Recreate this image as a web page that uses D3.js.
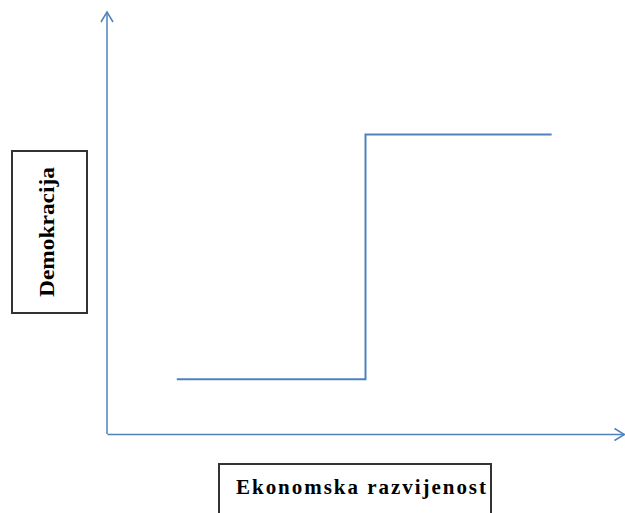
<!DOCTYPE html>
<html>
<head>
<meta charset="utf-8">
<script src="https://cdn.jsdelivr.net/npm/d3@7"></script>
<style>
  body { margin: 0; background: #fff; }
  svg { display: block; }
</style>
</head>
<body>
<svg id="chart"></svg>
<script>
// step relationship: economic development (x) vs democracy (y)
const economy = [13.5, 50, 86];
const democracy = [13, 71, 71];
const xLabel = 'Ekonomska razvijenost';
const yLabel = 'Demokracija';

const width = 625;
const height = 513;
const blue = '#4f81bd';

const svg = d3.select('#chart').attr('width', width).attr('height', height);

const xScale = d3.scaleLinear().domain([0, 100]).range([107, 624]);
const yScale = d3.scaleLinear().domain([0, 100]).range([434, 12]);

// open chevron arrowheads
svg
  .append('defs')
  .append('marker')
  .attr('id', 'arrow')
  .attr('markerUnits', 'userSpaceOnUse')
  .attr('viewBox', '-12 -8 14 16')
  .attr('refX', 0)
  .attr('refY', 0)
  .attr('markerWidth', 14)
  .attr('markerHeight', 16)
  .attr('orient', 'auto')
  .append('path')
  .attr('d', 'M-10,-6L0,0L-10,6')
  .attr('fill', 'none')
  .attr('stroke', blue)
  .attr('stroke-width', 1.5);

const xAxis = d3.axisBottom(xScale).ticks(0).tickSize(0).tickSizeOuter(0);
const yAxis = d3.axisLeft(yScale).ticks(0).tickSize(0).tickSizeOuter(0);

svg
  .append('g')
  .attr('class', 'xAxis')
  .attr('transform', `translate(0, ${yScale(0)})`)
  .call(xAxis)
  .select('.domain')
  .attr('stroke', blue)
  .attr('stroke-width', 1.5)
  .attr('marker-end', 'url(#arrow)');

svg
  .append('g')
  .attr('class', 'yAxis')
  .attr('transform', `translate(${xScale(0)}, 0)`)
  .call(yAxis)
  .select('.domain')
  .attr('d', `M0,${yScale(0)}V${yScale(100)}`)
  .attr('stroke', blue)
  .attr('stroke-width', 1.5)
  .attr('marker-end', 'url(#arrow)');

const line = d3
  .line()
  .x((d) => xScale(d[0]))
  .y((d) => yScale(d[1]))
  .curve(d3.curveStepAfter);

svg
  .append('path')
  .datum(d3.zip(economy, democracy))
  .attr('d', line)
  .attr('fill', 'none')
  .attr('stroke', blue)
  .attr('stroke-width', 2);

// label boxes
const yBox = svg.append('g').attr('class', 'yLabel');
yBox
  .append('rect')
  .attr('x', 12)
  .attr('y', 151)
  .attr('width', 75)
  .attr('height', 162)
  .attr('fill', 'none')
  .attr('stroke', '#333')
  .attr('stroke-width', 2);
yBox
  .append('text')
  .attr('transform', 'translate(54, 232) rotate(-90)')
  .attr('text-anchor', 'middle')
  .attr('font-family', '"Liberation Serif", "Times New Roman", serif')
  .attr('font-weight', 'bold')
  .attr('font-size', '20px')
  .attr('fill', '#000')
  .attr('textLength', 130)
  .attr('lengthAdjust', 'spacingAndGlyphs')
  .text(yLabel);

const xBox = svg.append('g').attr('class', 'xLabel');
xBox
  .append('rect')
  .attr('x', 219)
  .attr('y', 464)
  .attr('width', 272)
  .attr('height', 60)
  .attr('fill', 'none')
  .attr('stroke', '#333')
  .attr('stroke-width', 2);
xBox
  .append('text')
  .attr('x', 236)
  .attr('y', 494)
  .attr('font-family', '"Liberation Serif", "Times New Roman", serif')
  .attr('font-weight', 'bold')
  .attr('font-size', '21px')
  .attr('fill', '#000')
  .attr('textLength', 250)
  .attr('lengthAdjust', 'spacing')
  .text(xLabel);
</script>
</body>
</html>
